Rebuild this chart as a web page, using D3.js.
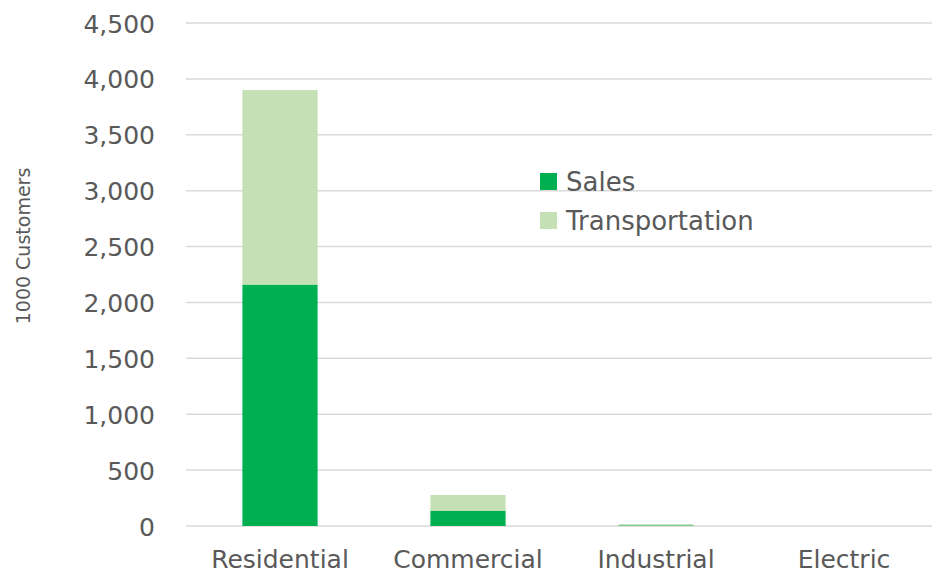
<!DOCTYPE html>
<html>
<head>
<meta charset="utf-8">
<script src="https://cdn.jsdelivr.net/npm/d3@7"></script>
<style>
  body { margin: 0; background: #fff; overflow: hidden; }
  text { font-family: "DejaVu Sans", sans-serif; fill: #595959; }
</style>
</head>
<body>
<div id="chart"></div>
<script>
// data (1000 customers)
var categories = ["Residential", "Commercial", "Industrial", "Electric"];
var sales = [2160, 137, 6, 0];
var transportation = [1740, 140, 10, 0];
var yTicks = [0, 500, 1000, 1500, 2000, 2500, 3000, 3500, 4000, 4500];
var seriesNames = ["Sales", "Transportation"];
var seriesColors = ["#00b050", "#c5e0b4"];

var W = 932, H = 580;
// plot runs a bit past the right edge, like the original
var margin = {top: 23, right: -6, bottom: 54, left: 186};
var width = W - margin.left - margin.right;
var height = H - margin.top - margin.bottom;

var svg = d3.select("#chart")
    .append("svg")
    .attr("width", W)
    .attr("height", H);

var g = svg.append("g")
    .attr("transform", "translate(" + margin.left + "," + margin.top + ")");

var x = d3.scaleBand()
    .domain(categories)
    .range([0, width])
    .paddingInner(0.6)
    .paddingOuter(0.3);

var y = d3.scaleLinear()
    .domain([0, 4500])
    .range([height, 0]);

// gridlines
g.selectAll(".grid")
    .data(yTicks)
    .enter()
    .append("line")
    .attr("x1", 0)
    .attr("x2", width)
    .attr("y1", d => y(d))
    .attr("y2", d => y(d))
    .attr("stroke", "#d9d9d9")
    .attr("stroke-width", 1.5);

// y tick labels
var yAxis = g.append("g")
    .call(d3.axisLeft(y).tickValues(yTicks).tickFormat(d3.format(",")).tickSize(0).tickPadding(31));
yAxis.select(".domain").remove();
yAxis.selectAll("text")
    .attr("font-size", 25)
    .attr("font-family", null)
    .attr("fill", "#595959")
    .attr("dy", "0.36em");

// x labels
var xAxis = g.append("g")
    .attr("transform", "translate(0," + height + ")")
    .call(d3.axisBottom(x).tickSize(0).tickPadding(24));
xAxis.select(".domain").remove();
xAxis.selectAll("text")
    .attr("font-size", 25)
    .attr("font-family", null)
    .attr("fill", "#595959")
    .attr("dy", "0.71em");

// stacked bars
var rows = categories.map(function(c, i) {
    return {cat: c, Sales: sales[i], Transportation: transportation[i]};
});
var stack = d3.stack().keys(seriesNames)(rows);

g.selectAll(".layer")
    .data(stack)
    .enter()
    .append("g")
    .attr("fill", (d, i) => seriesColors[i])
    .selectAll("rect")
    .data(d => d)
    .enter()
    .append("rect")
    .attr("x", d => x(d.data.cat))
    .attr("width", x.bandwidth())
    .attr("y", d => y(d[1]))
    .attr("height", d => y(d[0]) - y(d[1]));

// y axis title
svg.append("text")
    .attr("transform", "translate(30,246) rotate(-90)")
    .attr("text-anchor", "middle")
    .attr("font-size", 19)
    .text("1000 Customers");

// legend
var legend = svg.append("g")
    .attr("transform", "translate(540,173)");
var items = legend.selectAll("g")
    .data(seriesNames)
    .enter()
    .append("g")
    .attr("transform", (d, i) => "translate(0," + i * 39 + ")");
items.append("rect")
    .attr("width", 17)
    .attr("height", 17)
    .attr("fill", (d, i) => seriesColors[i]);
items.append("text")
    .attr("x", 26)
    .attr("y", 9)
    .attr("dy", "0.36em")
    .attr("font-size", 26)
    .text(d => d);
</script>
</body>
</html>
